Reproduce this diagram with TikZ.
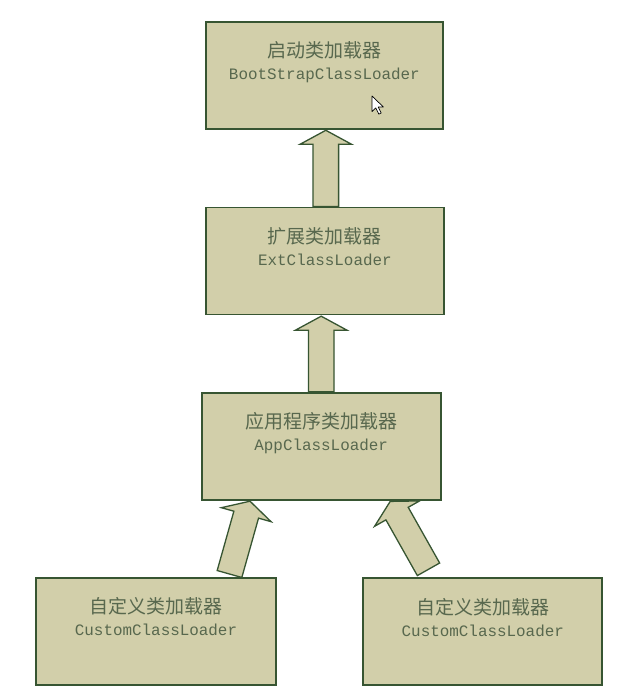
\documentclass[tikz,border=0pt]{standalone}
\usepackage{fontspec}
\newfontfamily\cjk{Noto Sans CJK SC}
\setmonofont{Liberation Mono}
\usetikzlibrary{calc}

\definecolor{boxfill}{RGB}{210,207,170}
\definecolor{edge}{RGB}{55,85,50}
\definecolor{label}{RGB}{88,104,78}

\tikzset{
  loaderbox/.style={draw=edge, line width=1.8pt, fill=boxfill,
    minimum width=#1, minimum height=107pt, inner sep=0pt},
  loaderbox/.default=238pt,
  zhtext/.style={anchor=base, text=label, font=\cjk\fontsize{19pt}{19pt}\selectfont, inner sep=0pt},
  entext/.style={anchor=base, text=label, font=\ttfamily\fontsize{15.9pt}{16pt}\selectfont, inner sep=0pt},
  fatarrow/.style={draw=edge, line width=1.3pt, fill=boxfill, line join=miter},
  pointer/.style={draw=black, line width=0.7pt, fill=white, line join=round}
}

% Block arrow from #1 (tail centre) to #2 (tip)
\newcommand\fatarrow[2]{%
  \coordinate (hb) at ($(#2)!14pt!(#1)$);
  \draw[fatarrow]
    ($(#1)!12.8pt!90:(#2)$) -- ($(hb)!12.8pt!-90:(#1)$) --
    ($(hb)!25.8pt!-90:(#1)$) -- (#2) --
    ($(hb)!25.8pt!90:(#1)$) -- ($(hb)!12.8pt!90:(#1)$) --
    ($(#1)!12.8pt!-90:(#2)$) -- cycle;
}

\begin{document}
\begin{tikzpicture}[x=1pt, y=-1pt]
\useasboundingbox[fill=white] (0,0) rectangle (640,696);

% loader boxes
\node[loaderbox=237pt] (boot) at (324.4,75.3) {};
\node[loaderbox=238pt] (ext) at (324.9,261) {};
\node[loaderbox=239pt] (app) at (321.2,446.2) {};
\node[loaderbox=240pt] (cust1) at (156,631.2) {};
\node[loaderbox=239pt] (cust2) at (482.8,631.4) {};

% labels
\node[zhtext] (bootzh) at ($(boot.north)+(0,37)$) {启动类加载器};
\node[entext] (booten) at ($(boot.north)+(0,59)$) {BootStrapClassLoader};
\node[zhtext] (extzh) at ($(ext.north)+(0,37)$) {扩展类加载器};
\node[entext] (exten) at ($(ext.north)+(0,59)$) {ExtClassLoader};
\node[zhtext] (appzh) at ($(app.north)+(0,37)$) {应用程序类加载器};
\node[entext] (appen) at ($(app.north)+(0,59)$) {AppClassLoader};
\node[zhtext] (c1zh) at ($(cust1.north)+(0,37)$) {自定义类加载器};
\node[entext] (c1en) at ($(cust1.north)+(0,59)$) {CustomClassLoader};
\node[zhtext] (c2zh) at ($(cust2.north)+(0,37)$) {自定义类加载器};
\node[entext] (c2en) at ($(cust2.north)+(0,59)$) {CustomClassLoader};

% parent delegation arrows
\coordinate (e1tail) at ($(ext.north)+(0.9,0)$);
\coordinate (e1tip) at ($(boot.south)+(1.4,0.6)$);
\fatarrow{e1tail}{e1tip}

\coordinate (a1tail) at (app.north);
\coordinate (a1tip) at ($(app.north |- ext.south)+(0,0.8)$);
\fatarrow{a1tail}{a1tip}

\coordinate (c1tail) at ($(cust1.north)+(73.5,-2.8)$);
\coordinate (c1tip) at ($(app.south)+(-71.2,0.6)$);
\fatarrow{c1tail}{c1tip}

\coordinate (c2tail) at ($(cust2.north)+(-54.3,-7.7)$);
\coordinate (c2tip) at ($(app.south)+(69,0.8)$);
\fatarrow{c2tail}{c2tip}

% mouse pointer
\draw[pointer] (372,96) -- ++(0,15.5) -- ++(3.8,-3.6) -- ++(3,6.2) -- ++(2.4,-1.1)
  -- ++(-3,-6) -- ++(5.2,0) -- cycle;
\end{tikzpicture}
\end{document}
